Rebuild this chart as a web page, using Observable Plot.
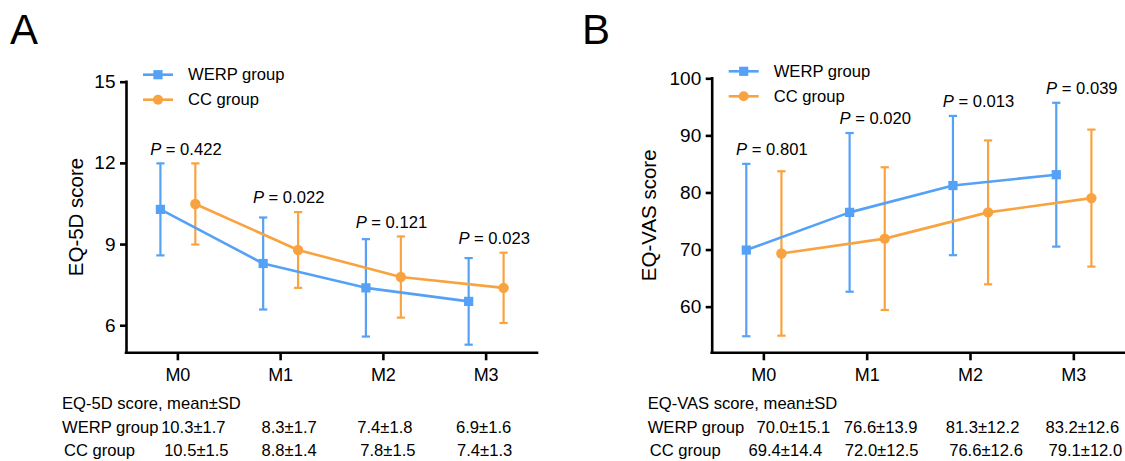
<!DOCTYPE html>
<html>
<head>
<meta charset="utf-8">
<script src="https://cdn.jsdelivr.net/npm/d3@7"></script>
<script src="https://cdn.jsdelivr.net/npm/@observablehq/plot@0.6"></script>
<style>
  html, body { margin: 0; padding: 0; background: #fff; }
  #wrap { position: relative; width: 1125px; height: 461px; overflow: hidden; background: #fff; }
  #wrap svg { position: absolute; top: 0; }
  [aria-label="y-axis tick"] path, [aria-label="x-axis tick"] path { stroke-width: 2.6px; }
  [aria-label="y-axis tick label"] { font-size: 19px; }
  [aria-label="x-axis tick label"] { font-size: 18px; }
</style>
</head>
<body>
<div id="wrap"></div>
<script>
// ---------- data ----------
const categories = ["M0", "M1", "M2", "M3"];
const groups = ["WERP group", "CC group"];

const eq5dWerpMean = [10.3, 8.3, 7.4, 6.9];
const eq5dWerpSD   = [1.7, 1.7, 1.8, 1.6];
const eq5dCCMean   = [10.5, 8.8, 7.8, 7.4];
const eq5dCCSD     = [1.5, 1.4, 1.5, 1.3];
const eq5dP        = ["0.422", "0.022", "0.121", "0.023"];
const eq5dTicks    = [6, 9, 12, 15];
const eq5dDomain   = [5, 15];

const vasWerpMean = [70.0, 76.6, 81.3, 83.2];
const vasWerpSD   = [15.1, 13.9, 12.2, 12.6];
const vasCCMean   = [69.4, 72.0, 76.6, 79.1];
const vasCCSD     = [14.4, 12.5, 12.6, 12.0];
const vasP        = ["0.801", "0.020", "0.013", "0.039"];
const vasTicks    = [60, 70, 80, 90, 100];
const vasDomain   = [52, 100];

// ---------- style ----------
const BLUE = "#55A1F6";
const ORANGE = "#F9A340";
const FONT = '"Liberation Sans", Arial, Helvetica, sans-serif';
const FS = 16.6;
const H = 461;
const OFF = 0.17;   // group offset in category units
const CAP = 0.04;   // error-bar cap half-width in category units

function makePanel(cfg) {
  const rows = [];
  categories.forEach((c, i) => {
    rows.push({g: groups[0], i, x: i - OFF, m: cfg.werpMean[i], s: cfg.werpSD[i]});
    rows.push({g: groups[1], i, x: i + OFF, m: cfg.ccMean[i], s: cfg.ccSD[i]});
  });
  const pRows = categories.map((c, i) => ({
    i,
    top: Math.max(cfg.werpMean[i] + cfg.werpSD[i], cfg.ccMean[i] + cfg.ccSD[i]),
    p: cfg.pvals[i]
  }));

  const plot = Plot.plot({
    width: cfg.width,
    height: H,
    marginTop: cfg.marginTop,
    marginBottom: 108.7,
    marginLeft: cfg.marginLeft,
    marginRight: cfg.marginRight,
    style: {fontFamily: FONT, fontSize: FS + "px", color: "#000", background: "#fff", overflow: "visible"},
    x: {type: "linear", domain: [-0.5, 3.5]},
    y: {domain: cfg.domain},
    color: {domain: groups, range: [BLUE, ORANGE]},
    symbol: {domain: groups, range: ["square", "circle"]},
    marks: [
      Plot.axisY({ticks: cfg.ticks, tickSize: 6, tickPadding: 5, label: null, fontSize: 19}),
      Plot.axisX({ticks: [0, 1, 2, 3], tickFormat: i => categories[i], tickSize: 8, tickPadding: 7, label: null, fontSize: 18}),
      Plot.ruleX([-0.5], {stroke: "#000", strokeWidth: 2.6, strokeLinecap: "square"}),
      Plot.ruleY([cfg.domain[0]], {stroke: "#000", strokeWidth: 2.6, strokeLinecap: "square"}),
      Plot.ruleX(rows, {x: "x", y1: d => d.m - d.s, y2: d => d.m + d.s, stroke: "g", strokeWidth: 2.2}),
      Plot.link(rows, {x1: d => d.x - CAP, x2: d => d.x + CAP, y1: d => d.m + d.s, y2: d => d.m + d.s, stroke: "g", strokeWidth: 2.2}),
      Plot.link(rows, {x1: d => d.x - CAP, x2: d => d.x + CAP, y1: d => d.m - d.s, y2: d => d.m - d.s, stroke: "g", strokeWidth: 2.2}),
      Plot.line(rows, {x: "x", y: "m", z: "g", stroke: "g", strokeWidth: 2.6}),
      Plot.dot(rows, {x: "x", y: "m", fill: "g", symbol: "g", r: 5.2, stroke: null}),
      Plot.text(pRows, {x: "i", y: "top", text: d => "P = " + d.p, dx: 8, dy: -14, fontSize: FS, fill: "#000", className: "ptext"})
    ]
  });

  plot.style.left = cfg.left + "px";
  const svg = d3.select(plot);
  const sx = plot.scale("x"), sy = plot.scale("y");
  const ax = sx.apply(-0.5);
  const base = sy.apply(cfg.domain[0]);
  const top = sy.apply(cfg.domain[1]);

  // italic P
  svg.selectAll(".ptext text").each(function () {
    const t = d3.select(this);
    const txt = t.text();
    t.text(null);
    t.append("tspan").attr("font-style", "italic").text("P");
    t.append("tspan").text(txt.slice(1));
  });

  // panel letter
  svg.append("text").attr("x", cfg.letterX).attr("y", 44).attr("text-anchor", "start")
    .attr("font-size", 42).attr("font-family", FONT).attr("fill", "#000").text(cfg.letter);

  // y-axis label
  svg.append("text")
    .attr("transform", `translate(${ax - cfg.labelOffset},${(top + base) / 2}) rotate(-90)`)
    .attr("text-anchor", "middle").attr("dominant-baseline", "central")
    .attr("font-size", 20.5).attr("font-family", FONT).attr("fill", "#000").text(cfg.yLabel);

  // legend
  const leg = svg.append("g").attr("font-family", FONT).attr("font-size", FS).attr("text-anchor", "start");
  groups.forEach((g, k) => {
    const yy = top + (k === 0 ? -7 : 18);
    const col = k === 0 ? BLUE : ORANGE;
    leg.append("line").attr("x1", ax + 17).attr("x2", ax + 47).attr("y1", yy).attr("y2", yy)
      .attr("stroke", col).attr("stroke-width", 2.6);
    if (k === 0) {
      leg.append("rect").attr("x", ax + 32 - 4.6).attr("y", yy - 4.6).attr("width", 9.2).attr("height", 9.2).attr("fill", col);
    } else {
      leg.append("circle").attr("cx", ax + 32).attr("cy", yy).attr("r", 5).attr("fill", col);
    }
    leg.append("text").attr("x", ax + 62).attr("y", yy).attr("dominant-baseline", "central")
      .attr("fill", "#000").text(g);
  });

  // table
  const tab = svg.append("g").attr("font-family", FONT).attr("font-size", FS).attr("fill", "#000").attr("text-anchor", "start");
  tab.append("text").attr("x", ax - 64).attr("y", base + 51).attr("dominant-baseline", "central").text(cfg.tableTitle);
  const tRows = [
    {label: groups[0], mean: cfg.werpMean, sd: cfg.werpSD, shift: cfg.shiftW, dy: 75.5, lx: 0},
    {label: groups[1], mean: cfg.ccMean, sd: cfg.ccSD, shift: cfg.shiftC, dy: 98.5, lx: 2}
  ];
  tRows.forEach(r => {
    tab.append("text").attr("x", ax - 64 + r.lx).attr("y", base + r.dy).attr("dominant-baseline", "central").text(r.label);
    categories.forEach((c, i) => {
      tab.append("text").attr("x", sx.apply(i) + r.shift[i]).attr("y", base + r.dy)
        .attr("text-anchor", "middle").attr("dominant-baseline", "central")
        .text(r.mean[i].toFixed(1) + "±" + r.sd[i].toFixed(1));
    });
  });
  return plot;
}

const wrap = document.getElementById("wrap");
wrap.appendChild(makePanel({
  left: 0, width: 560, marginLeft: 126, marginRight: 23, marginTop: 81.7,
  domain: eq5dDomain, ticks: eq5dTicks,
  werpMean: eq5dWerpMean, werpSD: eq5dWerpSD, ccMean: eq5dCCMean, ccSD: eq5dCCSD,
  pvals: eq5dP, yLabel: "EQ-5D score", tableTitle: "EQ-5D score, mean±SD",
  letter: "A", letterX: 10, labelOffset: 51,
  shiftW: [16, 9, 2, -2], shiftC: [19, 9, 5, -1]
}));
wrap.appendChild(makePanel({
  left: 560, width: 565, marginLeft: 151.7, marginRight: 0, marginTop: 78.3,
  domain: vasDomain, ticks: vasTicks,
  werpMean: vasWerpMean, werpSD: vasWerpSD, ccMean: vasCCMean, ccSD: vasCCSD,
  pvals: vasP, yLabel: "EQ-VAS score", tableTitle: "EQ-VAS score, mean±SD",
  letter: "B", letterX: 22, labelOffset: 63,
  shiftW: [30, 14, 12.5, 9], shiftC: [22, 15, 16, 12]
}));
</script>
</body>
</html>
